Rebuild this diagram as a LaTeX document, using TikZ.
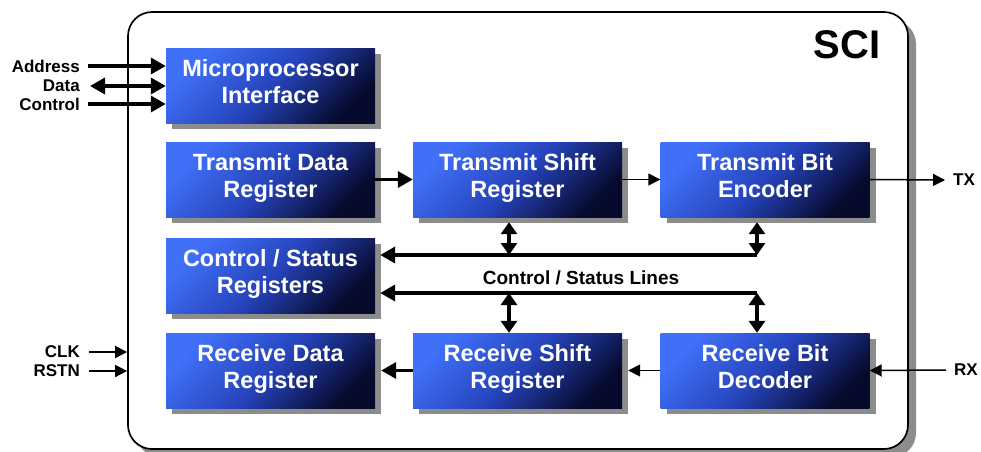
\documentclass[tikz,border=0pt]{standalone}
\usepackage{fontspec}
\setmainfont{Liberation Sans}
\usetikzlibrary{arrows.meta,shadows}

\definecolor{blkhi}{RGB}{64,112,248}
\definecolor{blkmid}{RGB}{38,68,188}
\definecolor{blklo}{RGB}{6,10,45}
\definecolor{shadowgray}{RGB}{140,140,140}

\begin{document}
\begin{tikzpicture}[x=1pt,y=-1pt,
  blk/.style={minimum width=209pt, minimum height=75pt, inner sep=0pt,
    align=center, text=white, font=\bfseries\fontsize{23.5}{27}\selectfont,
    execute at begin node=\strut, execute at end node=\strut,
    top color=blkhi, bottom color=blklo, middle color=blkmid, shading angle=45,
    general shadow={fill=shadowgray, shadow xshift=6pt, shadow yshift=-6pt}},
  lbl/.style={font=\bfseries\fontsize{17}{17}\selectfont, inner sep=0pt},
  thk/.style={line width=3.5pt, -{Triangle[length=15pt,width=16pt]}},
  thkdbl/.style={line width=3.5pt, {Triangle[length=15pt,width=16pt]}-{Triangle[length=15pt,width=16pt]}},
  vdbl/.style={line width=3.5pt, {Triangle[length=12pt,width=16pt]}-{Triangle[length=12pt,width=16pt]}},
  thn/.style={line width=1.5pt, -{Triangle[length=12pt,width=12pt]}}
]
\useasboundingbox (0,0) rectangle (981,451);

% outer SCI frame
\node[draw, line width=1.7pt, fill=white, rounded corners=24pt,
  minimum width=780pt, minimum height=437pt, inner sep=0pt,
  general shadow={fill=shadowgray, shadow xshift=8pt, shadow yshift=-8pt}]
  (sci) at (518,230.5) {};
\node[font=\bfseries\fontsize{40}{40}\selectfont] (scilbl) at (847,45) {SCI};

% functional blocks
\node[blk] (mpi) at (270.5,85.5)  {Microprocessor\\Interface};
\node[blk] (tdr) at (270.5,179.5) {Transmit Data\\Register};
\node[blk] (tsr) at (517.5,179.5) {Transmit Shift\\Register};
\node[blk] (tbe) at (765,179.5)   {Transmit Bit\\Encoder};
\node[blk] (csr) at (270.5,275.5) {Control / Status\\Registers};
\node[blk] (rdr) at (270.5,370.5) {Receive Data\\Register};
\node[blk] (rsr) at (517.5,370.5) {Receive Shift\\Register};
\node[blk] (rbd) at (765,370.5)   {Receive Bit\\Decoder};

% bus interface signals
\node[lbl, anchor=east] (addr) at (80,66)  {Address};
\node[lbl, anchor=east] (data) at (80,86)  {Data};
\node[lbl, anchor=east] (ctrl) at (80,104) {Control};
\draw[thk]    ([xshift=8pt]addr.east)  -- (addr -| mpi.west);
\draw[thkdbl] ([xshift=10pt]data.east) -- (data -| mpi.west);
\draw[thk]    ([xshift=8pt]ctrl.east)  -- (ctrl -| mpi.west);

% clock and reset
\node[lbl, anchor=east] (clk)  at (80,352) {CLK};
\node[lbl, anchor=east] (rstn) at (80,371) {RSTN};
\draw[thn] ([xshift=9pt]clk.east)  -- (clk -| sci.west);
\draw[thn] ([xshift=9pt]rstn.east) -- (rstn -| sci.west);

% serial lines
\node[lbl, anchor=west] (tx) at (953,180) {TX};
\node[lbl, anchor=west] (rx) at (954,370) {RX};
\draw[thn] (tbe.east) -- ([xshift=-8pt]tx.west);
\draw[thn] ([xshift=-8pt]rx.west) -- (rbd.east);

% data path
\draw[thk] (tdr.east) -- (tsr.west);
\draw[thn] (tsr.east) -- (tbe.west);
\draw[thn] (rbd.west) -- ([xshift=6pt]rsr.east);
\draw[thk] (rsr.west) -- ([xshift=6pt]rdr.east);

% control / status lines
\coordinate (busA) at (757,255);
\coordinate (busB) at (757,293);
\coordinate (tapA) at (509,255);
\coordinate (tapB) at (509,293);
\draw[thk] (busA) -- ([xshift=5pt]busA -| csr.east);
\draw[thk] (busB) -- ([xshift=5pt]busB -| csr.east);
\draw[vdbl] (tapA) -- ([yshift=-5pt]tapA |- tsr.south);
\draw[vdbl] (busA) -- ([yshift=-5pt]busA |- tbe.south);
\draw[vdbl] (tapB) -- (tapB |- rsr.north);
\draw[vdbl] (busB) -- (busB |- rbd.north);
\node[font=\bfseries\fontsize{19}{19}\selectfont] (cslines) at (581,278) {Control / Status Lines};
\end{tikzpicture}
\end{document}
